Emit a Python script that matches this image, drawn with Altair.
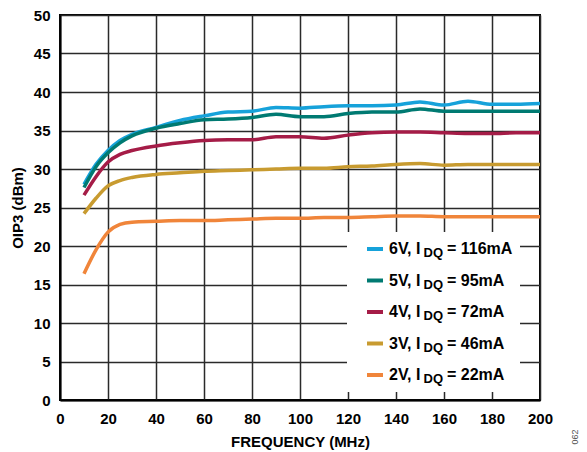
import altair as alt
import pandas as pd

freq = [10, 15, 20, 25, 30, 40, 50, 60, 70, 80, 90, 100, 110, 120, 130, 140, 150, 160, 170, 180, 190, 200]
v6 = [28.0, 30.6, 32.4, 33.7, 34.5, 35.4, 36.3, 36.9, 37.4, 37.5, 38.0, 37.9, 38.1, 38.2, 38.2, 38.3, 38.7, 38.3, 38.8, 38.4, 38.4, 38.5]
v5 = [27.6, 30.3, 32.1, 33.4, 34.3, 35.3, 35.9, 36.4, 36.5, 36.7, 37.1, 36.8, 36.8, 37.2, 37.4, 37.4, 37.8, 37.5, 37.5, 37.5, 37.5, 37.5]
v4 = [26.6, 29.0, 30.9, 31.9, 32.4, 33.0, 33.4, 33.7, 33.8, 33.8, 34.2, 34.2, 34.0, 34.4, 34.7, 34.8, 34.8, 34.7, 34.6, 34.6, 34.7, 34.7]
v3 = [24.2, 26.2, 27.8, 28.5, 28.9, 29.3, 29.5, 29.7, 29.8, 29.9, 30.0, 30.1, 30.1, 30.3, 30.4, 30.6, 30.7, 30.5, 30.6, 30.6, 30.6, 30.6]
v2 = [16.4, 19.5, 21.8, 22.8, 23.1, 23.2, 23.3, 23.3, 23.4, 23.5, 23.6, 23.6, 23.7, 23.7, 23.8, 23.9, 23.9, 23.8, 23.8, 23.8, 23.8, 23.8]

series_keys = ["6V", "5V", "4V", "3V", "2V"]
series_idq = ["116mA", "95mA", "72mA", "46mA", "22mA"]
series_vals = [v6, v5, v4, v3, v2]
colors = ["#16A2DA", "#007A72", "#A51C47", "#C89B30", "#F0853A"]

rows = []
for k, vals in zip(series_keys, series_vals):
    for f, v in zip(freq, vals):
        rows.append({"series": k, "freq": f, "oip3": v})
df = pd.DataFrame(rows)

FONT = "Liberation Sans"
color_scale = alt.Scale(domain=series_keys, range=colors)

base = alt.Chart(df)

lines = base.mark_line(strokeWidth=3.5, interpolate="monotone").encode(
    x=alt.X("freq:Q", scale=alt.Scale(domain=[0, 200], nice=False),
            axis=alt.Axis(values=list(range(0, 201, 20)), title="FREQUENCY (MHz)")),
    y=alt.Y("oip3:Q", scale=alt.Scale(domain=[0, 50], nice=False),
            axis=alt.Axis(values=list(range(0, 51, 5)), title="OIP3 (dBm)")),
    color=alt.Color("series:N", scale=color_scale, legend=None),
    detail="series:N",
)

# legend box (white background covering the grid)
leg_box = alt.Chart(pd.DataFrame({"a": [0]})).mark_rect(fill="white").encode(
    x=alt.value(287), x2=alt.value(460), y=alt.value(217), y2=alt.value(377)
)

row_y = [234, 265.5, 297, 328.5, 360]
leg_df = pd.DataFrame({
    "series": series_keys,
    "ly": row_y,
    "ly_sub": [y + 4 for y in row_y],
    "pre": [k + ", I" for k in series_keys],
    "sub": ["DQ"] * 5,
    "post": ["= " + s for s in series_idq],
})
leg = alt.Chart(leg_df)
swatch = leg.mark_rule(strokeWidth=4).encode(
    x=alt.value(307), x2=alt.value(323),
    y=alt.Y("ly:Q", scale=None),
    color=alt.Color("series:N", scale=color_scale, legend=None),
)
txt_pre = leg.mark_text(align="left", baseline="middle", fontSize=16, fontWeight="bold",
                        font=FONT, color="black").encode(
    x=alt.value(329), y=alt.Y("ly:Q", scale=None), text="pre:N")
txt_sub = leg.mark_text(align="left", baseline="middle", fontSize=13, fontWeight="bold",
                        font=FONT, color="black").encode(
    x=alt.value(363.5), y=alt.Y("ly_sub:Q", scale=None), text="sub:N")
txt_post = leg.mark_text(align="left", baseline="middle", fontSize=16, fontWeight="bold",
                         font=FONT, color="black").encode(
    x=alt.value(387), y=alt.Y("ly:Q", scale=None), text="post:N")

code = alt.Chart(pd.DataFrame({"t": ["062"]})).mark_text(
    angle=270, fontSize=9, font=FONT, color="#555555", baseline="middle", align="center"
).encode(x=alt.value(515), y=alt.value(422), text="t:N")

chart = alt.layer(lines, leg_box, swatch, txt_pre, txt_sub, txt_post, code).properties(
    width=480, height=385,
    autosize=alt.AutoSizeParams(type="none"),
    padding={"left": 52, "top": 7, "right": 39, "bottom": 50},
).configure_view(
    stroke="black", strokeWidth=2
).configure_axis(
    grid=True, gridColor="#2a2a2a", gridWidth=1.5, gridOpacity=1,
    domain=True, domainColor="black", domainWidth=2,
    ticks=False, labelFlush=False,
    labelFont=FONT, labelFontSize=15, labelFontWeight="bold", labelColor="black",
    titleFont=FONT, titleFontSize=15, titleFontWeight="bold", titleColor="black",
).configure_axisX(
    labelPadding=11, titlePadding=8
).configure_axisY(
    labelPadding=10, titlePadding=8
)

chart.save("out.html", embed_options={"renderer": "svg", "actions": False})
